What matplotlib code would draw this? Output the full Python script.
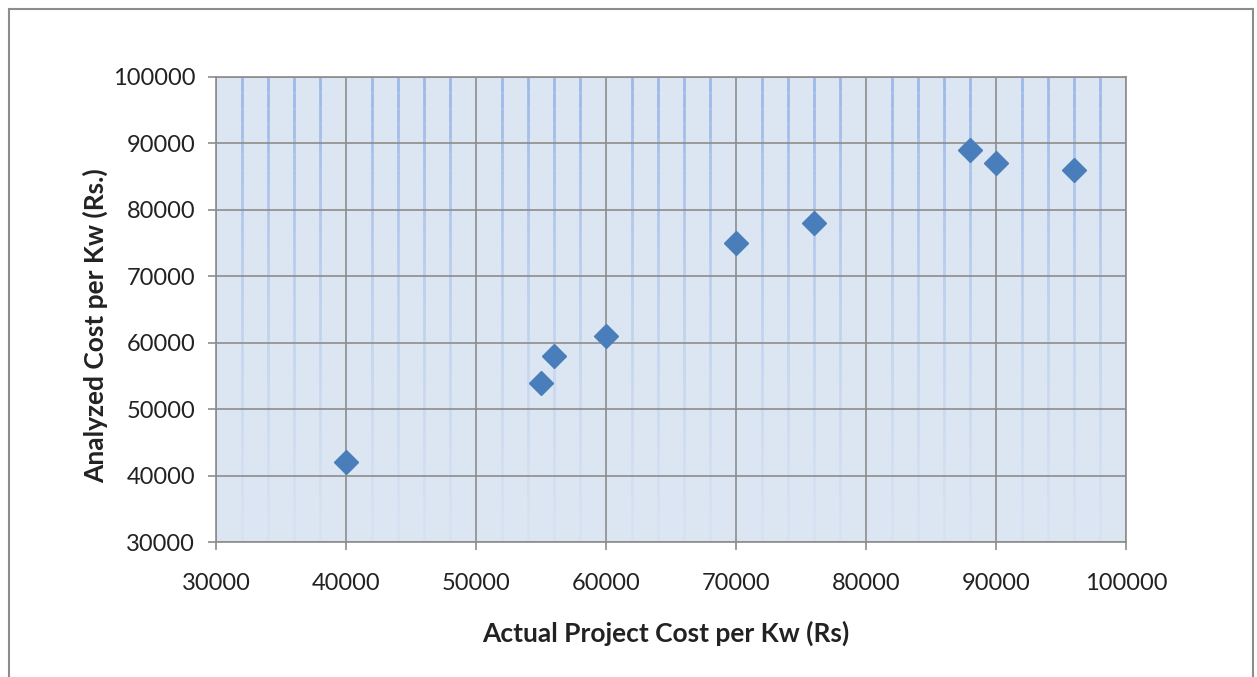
import numpy as np
import matplotlib.pyplot as plt
from matplotlib.lines import Line2D

# data
actual_cost = [40000, 55000, 56000, 60000, 70000, 76000, 88000, 90000, 96000]
analyzed_cost = [42000, 54000, 58000, 61000, 75000, 78000, 89000, 87000, 86000]

x_ticks = [30000, 40000, 50000, 60000, 70000, 80000, 90000, 100000]
y_ticks = [30000, 40000, 50000, 60000, 70000, 80000, 90000, 100000]
x_minor = np.arange(30000, 100001, 2000)

plt.rcParams['font.family'] = ['Lato', 'DejaVu Sans']

fig = plt.figure(figsize=(12.57, 6.77), dpi=100)
ax = fig.add_axes([0.1718, 0.1994, 0.8958 - 0.1718, 0.8863 - 0.1994])
ax.set_facecolor('#DCE6F2')

ax.set_xlim(30000, 100000)
ax.set_ylim(30000, 100000)

# minor vertical gridlines, fading towards the bottom like the Excel original
n_seg = 30
edges = np.linspace(30000, 100000, n_seg + 1)
for xm in x_minor:
    if xm % 10000 == 0:
        continue
    for i in range(n_seg):
        a = 0.08 + 0.92 * (i / (n_seg - 1)) ** 1.3
        ax.plot([xm, xm], [edges[i], edges[i + 1]], color='#9DB9E8',
                lw=2.0, alpha=a, solid_capstyle='butt', zorder=1)

# major gridlines
for xv in x_ticks:
    ax.axvline(xv, color='#8C8C8C', lw=1.2, zorder=2)
for yv in y_ticks:
    ax.axhline(yv, color='#8C8C8C', lw=1.2, zorder=2)

ax.plot(actual_cost, analyzed_cost, linestyle='none', marker='D',
        markersize=12, color='#4A7EBB', markeredgecolor='#4A7EBB', zorder=5)

ax.set_xticks(x_ticks)
ax.set_yticks(y_ticks)
ax.tick_params(axis='both', direction='out', length=6, width=1.2,
               color='#8C8C8C', labelsize=17, labelcolor='#222222')
ax.tick_params(axis='x', pad=16)
ax.tick_params(axis='y', pad=9)

for side in ['top', 'right', 'bottom', 'left']:
    ax.spines[side].set_color('#8C8C8C')
    ax.spines[side].set_linewidth(1.2)

ax.set_xlabel('Actual Project Cost per Kw (Rs)', fontsize=19, fontweight='bold',
              labelpad=19.5, color='#222222', x=0.4945)
ax.set_ylabel('Analyzed Cost per Kw (Rs.)', fontsize=19, fontweight='bold',
              labelpad=3.5, color='#222222', y=0.4645)

# chart area border
W, H = 1257, 677
fig.add_artist(Line2D([9 / W, 1253 / W], [1 - 9 / H, 1 - 9 / H],
                      color='#8C8C8C', lw=1.5, transform=fig.transFigure))
fig.add_artist(Line2D([9 / W, 9 / W], [0, 1 - 9 / H],
                      color='#8C8C8C', lw=1.5, transform=fig.transFigure))
fig.add_artist(Line2D([1253 / W, 1253 / W], [0, 1 - 9 / H],
                      color='#8C8C8C', lw=1.5, transform=fig.transFigure))

fig.savefig('out.png', dpi=100)
